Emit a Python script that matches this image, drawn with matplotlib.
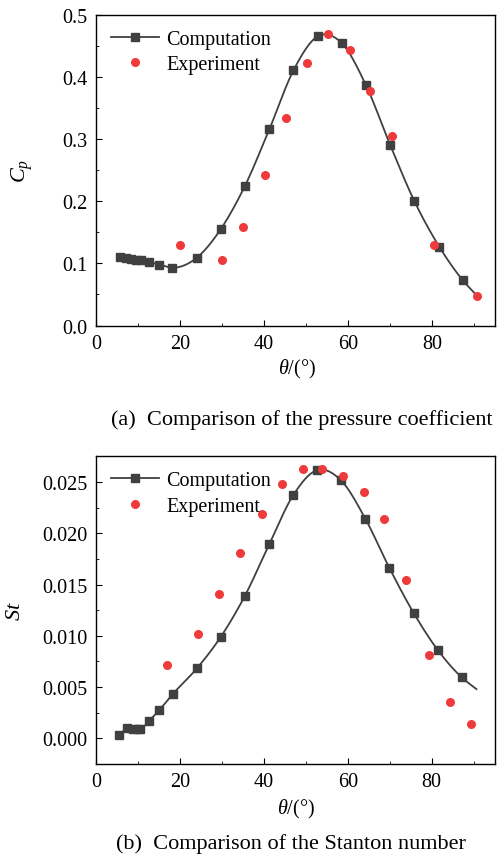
import numpy as np
import matplotlib
matplotlib.use("Agg")
import matplotlib.pyplot as plt
from matplotlib.ticker import MultipleLocator, FormatStrFormatter

plt.rcParams['font.family'] = ['Liberation Serif', 'DejaVu Serif']
plt.rcParams['mathtext.fontset'] = 'custom'
plt.rcParams['mathtext.rm'] = 'Liberation Serif'
plt.rcParams['mathtext.it'] = 'Liberation Serif:italic'

# (a) pressure coefficient
cp_theta = [5.6, 7.2, 8.4, 9.6, 10.6, 12.5, 15.1, 18.2, 24.0, 29.7, 35.5,
            41.3, 47.0, 52.8, 58.5, 64.3, 70.0, 75.8, 81.7, 87.3, 90.7]
cp_comp = [0.110, 0.108, 0.107, 0.106, 0.105, 0.102, 0.098, 0.093, 0.109, 0.155, 0.225,
           0.316, 0.410, 0.465, 0.454, 0.386, 0.291, 0.200, 0.127, 0.073, 0.048]
cp_exp_theta = [20.1, 29.9, 35.1, 40.2, 45.2, 50.2, 55.2, 60.4, 65.3, 70.5, 80.5, 90.7]
cp_exp = [0.130, 0.106, 0.159, 0.242, 0.334, 0.422, 0.469, 0.443, 0.377, 0.305, 0.129, 0.047]

# (b) Stanton number
st_theta = [5.6, 7.4, 8.9, 10.0, 10.6, 12.6, 15.1, 18.3, 24.1, 29.7, 35.5,
            41.3, 47.0, 52.6, 58.4, 64.2, 69.9, 75.7, 81.5, 87.2, 90.7]
st_comp = [0.00029, 0.00104, 0.00092, 0.00088, 0.00090, 0.00169, 0.00276, 0.00432, 0.00685,
           0.00987, 0.01390, 0.01892, 0.02370, 0.02613, 0.02515, 0.02142, 0.01665, 0.01224,
           0.00860, 0.00594, 0.00480]
st_exp_theta = [16.9, 24.4, 29.3, 34.3, 39.5, 44.3, 49.3, 53.9, 59.0, 63.9, 68.6, 74.0, 79.5, 84.5, 89.5]
st_exp = [0.0072, 0.0102, 0.0141, 0.0181, 0.0219, 0.0248, 0.0263, 0.0263, 0.0256, 0.0240,
          0.0214, 0.0154, 0.0081, 0.0035, 0.0014]

line_col = '#404040'
red = '#ee3a3a'
fs = 14.5


def smooth(x, y, n=20):
    # cubic hermite through the points, just for drawing the curve
    x = np.asarray(x, float)
    y = np.asarray(y, float)
    m = np.gradient(y, x)
    xs, ys = [], []
    for i in range(len(x) - 1):
        h = x[i + 1] - x[i]
        t = np.linspace(0, 1, n, endpoint=False)
        h00 = 2 * t**3 - 3 * t**2 + 1
        h10 = t**3 - 2 * t**2 + t
        h01 = -2 * t**3 + 3 * t**2
        h11 = t**3 - t**2
        xs.append(x[i] + t * h)
        ys.append(h00 * y[i] + h10 * h * m[i] + h01 * y[i + 1] + h11 * h * m[i + 1])
    xs.append([x[-1]])
    ys.append([y[-1]])
    return np.concatenate(xs), np.concatenate(ys)


def draw(ax, tx, comp, ex_t, ex):
    sx, sy = smooth(tx, comp)
    ax.plot(sx, sy, color=line_col, lw=1.3, zorder=2)
    ax.plot(tx[:-1], comp[:-1], 's', color=line_col, ms=5.8, zorder=3)
    ax.plot(ex_t, ex, 'o', color=red, ms=6.5, mec='none', zorder=4)
    h1, = ax.plot([], [], '-s', color=line_col, lw=1.3, ms=5.8, label='Computation')
    h2, = ax.plot([], [], 'o', color=red, ms=6.5, mec='none', label='Experiment')
    ax.legend(handles=[h1, h2], loc='upper left', frameon=False, fontsize=fs,
              handlelength=2.4, handletextpad=0.35, borderaxespad=0.35, labelspacing=0.3)
    ax.set_xlim(0, 95)
    ax.xaxis.set_major_locator(MultipleLocator(20))
    ax.xaxis.set_minor_locator(MultipleLocator(10))
    ax.tick_params(which='both', direction='in', labelsize=fs, pad=6)
    ax.tick_params(which='major', length=4.5)
    ax.tick_params(which='minor', length=2.5)
    ax.set_xlabel(r'$\it{\theta}$/(°)', fontsize=fs)
    for s in ax.spines.values():
        s.set_linewidth(1.0)


fig = plt.figure(figsize=(4.99, 8.62), dpi=100)

ax1 = fig.add_axes([0.1924, 0.6212, 0.7996, 0.3608])
draw(ax1, cp_theta, cp_comp, cp_exp_theta, cp_exp)
ax1.set_ylim(0, 0.5)
ax1.yaxis.set_major_locator(MultipleLocator(0.1))
ax1.yaxis.set_minor_locator(MultipleLocator(0.05))
ax1.yaxis.set_major_formatter(FormatStrFormatter('%.1f'))
ax1.set_ylabel(r'$C_p$', fontsize=16)
ax1.yaxis.set_label_coords(-0.153, 0.5)
ax1.xaxis.set_label_coords(0.503, -0.10)

ax2 = fig.add_axes([0.1924, 0.1125, 0.7986, 0.357])
draw(ax2, st_theta, st_comp, st_exp_theta, st_exp)
ax2.set_ylim(-0.0025, 0.0275)
ax2.yaxis.set_major_locator(MultipleLocator(0.005))
ax2.yaxis.set_minor_locator(MultipleLocator(0.0025))
ax2.yaxis.set_major_formatter(FormatStrFormatter('%.3f'))
ax2.set_ylabel(r'$St$', fontsize=16)
ax2.yaxis.set_label_coords(-0.178, 0.5)
ax2.xaxis.set_label_coords(0.503, -0.107)

fig.text(0.605, 0.513, '(a)  Comparison of the pressure coefficient', ha='center', va='center', fontsize=16)
fig.text(0.584, 0.021, '(b)  Comparison of the Stanton number', ha='center', va='center', fontsize=16)

fig.savefig('out.png', dpi=100)
